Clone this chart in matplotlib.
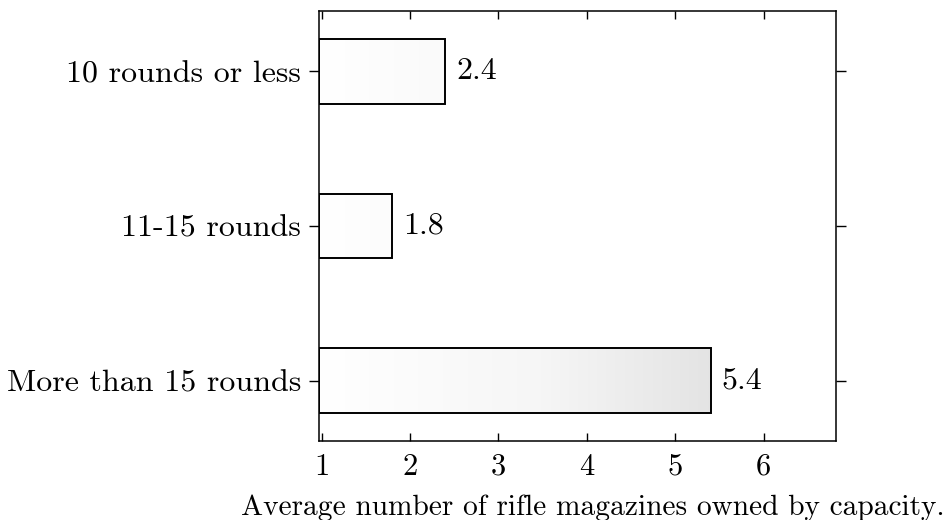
import numpy as np
import matplotlib
matplotlib.use("Agg")
from matplotlib import pyplot as plt
from matplotlib.colors import LinearSegmentedColormap

categories = ["10 rounds or less", "11-15 rounds", "More than 15 rounds"]
values = [2.4, 1.8, 5.4]
xticks = [1, 2, 3, 4, 5, 6]

plt.rcParams['font.family'] = ['cmr10', 'DejaVu Serif']
plt.rcParams['mathtext.fontset'] = 'cm'
plt.rcParams['axes.formatter.use_mathtext'] = True

fig = plt.figure(figsize=(9.48, 5.2), dpi=100)
ax = fig.add_axes([319 / 948, 1 - 441 / 520, 517 / 948, 430 / 520])

xmin, xmax = 0.97, 6.82
ypos = np.arange(len(categories))
bars = ax.barh(ypos, np.array(values) - xmin, left=xmin, height=0.42,
               facecolor='none', edgecolor='black', linewidth=1.4, zorder=3)

# speckled grey shading, getting denser to the right
cmap = LinearSegmentedColormap.from_list('speck', ['#ffffff', '#f6f6f6', '#dedede'])
grad = np.linspace(0, 1, 256).reshape(1, -1)
for b in bars:
    im = ax.imshow(grad, cmap=cmap, aspect='auto', zorder=2,
                   extent=[xmin, 6.0, b.get_y(), b.get_y() + b.get_height()])
    im.set_clip_path(b)

for y, v in zip(ypos, values):
    ax.text(v + 0.12, y, f"{v}", va='center', ha='left', fontsize=23)

ax.set_xlim(xmin, xmax)
ax.set_ylim(2.39, -0.39)
ax.set_xticks(xticks)
ax.set_xticklabels([str(t) for t in xticks])
ax.set_yticks(ypos)
ax.set_yticklabels(categories)

ax.tick_params(axis='x', direction='in', top=True, length=6, width=1, labelsize=22, pad=9)
ax.tick_params(axis='y', direction='out', right=True, length=7, width=1, labelsize=23, pad=6)
for s in ax.spines.values():
    s.set_linewidth(1.1)

ax.set_xlabel("Average number of rifle magazines owned by capacity.", fontsize=21.2)
ax.xaxis.set_label_coords((593 - 319) / 517, -0.125)

fig.savefig("out.png", dpi=100)
